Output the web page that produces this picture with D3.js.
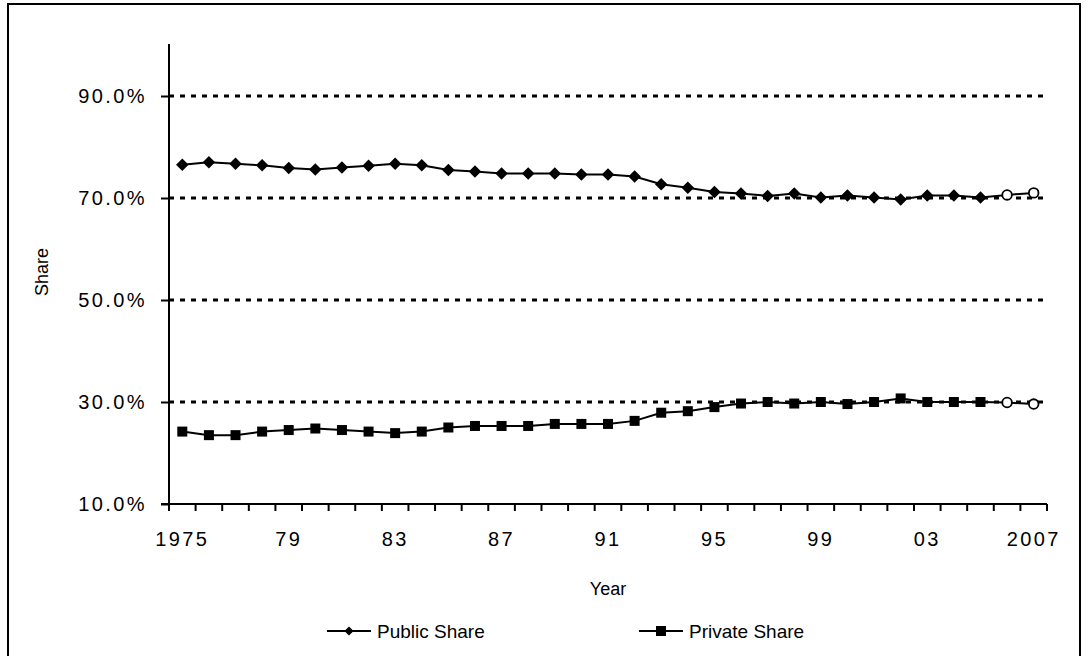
<!DOCTYPE html>
<html><head><meta charset="utf-8">
<script src="https://cdn.jsdelivr.net/npm/d3@7"></script>
<style>body{margin:0;background:#fff}svg{display:block}</style>
</head><body>
<svg id="c" width="1088" height="656"></svg>
<script>
const years = d3.range(1975, 2008);
const publicShare = [76.5,77.0,76.7,76.4,75.9,75.6,76.0,76.3,76.7,76.4,75.5,75.2,74.8,74.8,74.8,74.6,74.6,74.2,72.7,72.0,71.2,70.9,70.4,70.9,70.1,70.5,70.1,69.7,70.5,70.5,70.1,70.6,71.0];
const privateShare = [24.2,23.5,23.5,24.2,24.5,24.8,24.5,24.2,23.9,24.2,25.0,25.3,25.3,25.3,25.7,25.7,25.7,26.3,27.9,28.2,29.0,29.7,30.0,29.7,30.0,29.6,30.0,30.7,30.0,30.0,30.0,29.9,29.6];
const estimatedYears = [2006, 2007];
const yTicks = [10, 30, 50, 70, 90];
const xLabelYears = [1975, 1979, 1983, 1987, 1991, 1995, 1999, 2003, 2007];
const xLabelText = ["1975","79","83","87","91","95","99","03","2007"];

const svg = d3.select("#c");
const font = "'Liberation Sans', Arial, sans-serif";
const L = 169, R = 1047, T = 45, B = 504;

svg.append("rect").attr("x",8).attr("y",4).attr("width",1072).attr("height",670)
  .attr("fill","none").attr("stroke","#000").attr("stroke-width",2);

const x = d3.scaleBand().domain(years).range([L, R]).padding(0);
const cx = d => x(d) + x.bandwidth()/2;
const y = d3.scaleLinear().domain([10, 100]).range([B, T]);

// gridlines
svg.append("g").selectAll("line").data(yTicks.filter(v => v > 10)).join("line")
  .attr("x1", L).attr("x2", R).attr("y1", d => y(d)).attr("y2", d => y(d))
  .attr("stroke","#000").attr("stroke-width",3).attr("stroke-dasharray","5,6");

// y axis
const yAxis = svg.append("g").attr("transform",`translate(${L},0)`)
  .call(d3.axisLeft(y).tickValues(yTicks).tickSize(8).tickPadding(14).tickFormat(d => d.toFixed(1) + "%"));
yAxis.select(".domain").remove();
yAxis.selectAll(".tick line").attr("stroke","#000").attr("stroke-width",2);
yAxis.selectAll("text").attr("font-family",font).attr("font-size",20).attr("letter-spacing","2.4px").attr("fill","#000");
svg.append("line").attr("x1",L).attr("x2",L).attr("y1",T-1).attr("y2",B).attr("stroke","#000").attr("stroke-width",2);

// x axis
svg.append("line").attr("x1",L-8).attr("x2",R).attr("y1",B).attr("y2",B).attr("stroke","#000").attr("stroke-width",2);
const bounds = years.map(d => x(d)).concat([x.range()[1]]);
svg.append("g").selectAll("line").data(bounds).join("line")
  .attr("x1", d => d).attr("x2", d => d).attr("y1", B).attr("y2", B + 7)
  .attr("stroke","#000").attr("stroke-width",2);
svg.append("g").selectAll("text").data(xLabelYears).join("text")
  .attr("x", d => cx(d)).attr("y", 546).attr("text-anchor","middle")
  .attr("font-family",font).attr("font-size",20).attr("letter-spacing","2.4px")
  .text((d,i) => xLabelText[i]);

// axis titles
svg.append("text").attr("x", (L+R)/2).attr("y", 595).attr("text-anchor","middle")
  .attr("font-family",font).attr("font-size",18).text("Year");
svg.append("text").attr("transform","translate(48,272) rotate(-90)").attr("text-anchor","middle")
  .attr("font-family",font).attr("font-size",18).text("Share");

const line = d3.line().x((d,i) => cx(years[i])).y(d => y(d));

function series(vals, shape) {
  svg.append("path").datum(vals).attr("d", line).attr("fill","none").attr("stroke","#000").attr("stroke-width",2);
  const g = svg.append("g");
  vals.forEach((v,i) => {
    const yr = years[i];
    if (estimatedYears.includes(yr)) {
      g.append("circle").attr("cx", cx(yr)).attr("cy", y(v)).attr("r", 4.8)
        .attr("fill","#fff").attr("stroke","#000").attr("stroke-width",1.8);
    } else if (shape === "diamond") {
      g.append("path").attr("d", d3.symbol().type(d3.symbolSquare).size(78)())
        .attr("transform",`translate(${cx(yr)},${y(v)}) rotate(45)`).attr("fill","#000");
    } else {
      g.append("rect").attr("x", cx(yr)-5).attr("y", y(v)-5).attr("width",10).attr("height",10).attr("fill","#000");
    }
  });
}
series(publicShare, "diamond");
series(privateShare, "square");

// legend
const lg = svg.append("g");
lg.append("line").attr("x1",327).attr("x2",371).attr("y1",631).attr("y2",631).attr("stroke","#000").attr("stroke-width",2);
lg.append("path").attr("d", d3.symbol().type(d3.symbolSquare).size(42)()).attr("transform","translate(349,631) rotate(45)").attr("fill","#000");
lg.append("text").attr("x",377).attr("y",638).attr("font-family",font).attr("font-size",19).text("Public Share");
lg.append("line").attr("x1",639).attr("x2",683).attr("y1",631).attr("y2",631).attr("stroke","#000").attr("stroke-width",2);
lg.append("rect").attr("x",656).attr("y",626).attr("width",10).attr("height",10).attr("fill","#000");
lg.append("text").attr("x",689).attr("y",638).attr("font-family",font).attr("font-size",19).text("Private Share");
</script>
</body></html>
